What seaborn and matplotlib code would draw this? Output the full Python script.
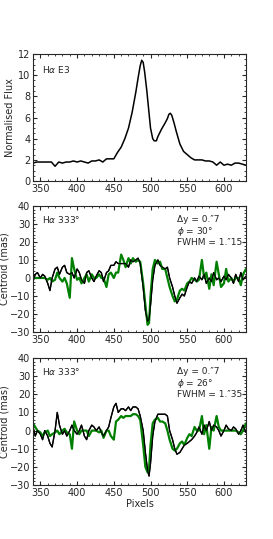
import numpy as np
import pandas as pd
import matplotlib
matplotlib.use("Agg")
import matplotlib.pyplot as plt
import seaborn as sns

# ---- data ----
flux_x = [340, 345, 350, 355, 360, 365, 370, 375, 380, 385, 390, 395, 400, 405, 410,
          415, 420, 425, 430, 435, 440, 445, 450, 455, 460, 465, 470, 475, 480, 483,
          486, 488, 490, 492, 495, 498, 500, 503, 505, 508, 510, 515, 520, 523, 525,
          527, 529, 532, 535, 540, 545, 550, 555, 560, 565, 570, 575, 580, 585, 590,
          595, 600, 605, 610, 615, 620, 625, 630]
flux_y = [1.7, 1.8, 1.8, 1.8, 1.8, 1.8, 1.4, 1.8, 1.7, 1.8, 1.8, 1.9, 1.8, 1.9, 1.8,
          1.7, 1.9, 1.9, 2.0, 1.8, 2.1, 2.1, 2.1, 2.7, 3.2, 4.0, 5.0, 6.5, 8.4, 9.7,
          10.9, 11.4, 11.2, 10.3, 8.5, 6.4, 5.0, 4.0, 3.8, 3.8, 4.2, 4.9, 5.5, 5.9, 6.3,
          6.4, 6.2, 5.5, 4.7, 3.5, 2.8, 2.5, 2.2, 2.0, 2.0, 2.0, 1.9, 1.9, 1.8, 1.5,
          1.8, 1.5, 1.6, 1.5, 1.7, 1.7, 1.6, 1.5]

cen_x = [340, 343, 346, 350, 353, 356, 360, 363, 366, 370, 373, 376, 380, 383, 386,
         390, 393, 396, 400, 403, 406, 410, 413, 416, 420, 423, 426, 430, 433, 436,
         440, 443, 446, 450, 453, 456, 460, 463, 466, 470, 473, 476, 480, 483, 486,
         490, 493, 496, 498, 500, 503, 506, 510, 513, 516, 520, 523, 526, 530, 533,
         536, 540, 543, 546, 550, 553, 556, 560, 563, 566, 570, 573, 576, 580, 583,
         586, 590, 593, 596, 600, 603, 606, 610, 613, 616, 620, 623, 626, 630]

obs_30 = [-2, 2, 3, 0, 2, 1, -3, -7, 0, 5, 6, 2, 6, 7, 3,
          2, 3, 0, 5, 3, -1, -3, 3, 4, 0, -2, 1, 4, 3, -2,
          3, 4, 7, 7, 9, 8, 8, 8, 8, 6, 10, 9, 10, 11, 8,
          -5, -18, -24, -23, -15, -1, 7, 10, 7, 6, 5, 6, 0, -5, -10,
          -14, -11, -9, -10, -5, -2, -3, 0, -2, 1, -1, 2, -3, 0, -2,
          3, -1, 0, -2, 1, -1, 2, 0, -3, 2, -2, 3, -1, 1]
mod_30 = [0, 0, 0, 0, 0, 0, -1, 0, -2, -1, 3, 0, -2, 0, -3,
          -11, 11, 5, -1, 0, -3, 0, 2, -2, 2, 0, 0, 2, 0, 0,
          -5, 2, 3, 0, 3, 3, 13, 10, 6, 11, 8, 11, 9, 10, 9,
          -3, -15, -26, -25, -10, 5, 10, 8, 9, 5, 5, 0, -5, -10, -13,
          -12, -7, -6, -7, -3, -2, 0, -1, -2, -1, 10, 0, 3, -6, 2,
          -4, 9, 2, -5, -3, 5, -2, 0, -2, 0, 0, -4, 2, 5]

obs_26 = [2, -3, 0, -2, -5, 0, -3, -7, -9, 0, 10, 3, -2, 0, -3,
          0, 3, 0, -2, 0, 3, -3, -5, 0, 3, 2, 0, 2, -1, -3,
          0, 2, 7, 13, 15, 10, 12, 12, 11, 13, 11, 13, 13, 12, 8,
          0, -12, -22, -25, -18, -3, 5, 9, 9, 9, 9, 8, 0, -5, -10,
          -13, -12, -10, -8, -7, -6, -5, -3, -1, 2, -2, 3, 0, 5, 0,
          3, 2, 0, -3, 0, 3, 1, 0, 2, 1, -2, 0, 3, -1]
mod_26 = [4, 2, 0, -1, -3, -1, 0, -3, -2, -1, 0, -2, 0, 1, -1,
          -2, -10, 5, 0, -2, 0, 0, 0, -3, 0, 0, 0, -1, 0, -4,
          0, 0, -3, -5, 5, 6, 8, 7, 8, 8, 8, 9, 9, 8, 6,
          -8, -20, -23, -21, -8, 4, 6, 7, 5, 5, 4, 0, -5, -10, -11,
          -10, -7, -6, -8, -4, -2, -3, 2, 0, 0, 8, -2, 3, -10, 2,
          0, 8, 2, 0, 0, 0, 0, 0, 0, 0, -1, -2, 0, 4]

panels = [("30°", "1.″15", obs_30, mod_30), ("26°", "1.″35", obs_26, mod_26)]

# ---- style ----
sns.set_style("ticks")
plt.rcParams['font.family'] = ['DejaVu Sans']
plt.rcParams.update({
    'xtick.direction': 'in', 'ytick.direction': 'in',
    'xtick.top': True, 'ytick.right': True,
    'xtick.minor.visible': True, 'ytick.minor.visible': True,
    'xtick.labelsize': 7, 'ytick.labelsize': 7,
    'xtick.major.size': 3, 'ytick.major.size': 3,
    'xtick.minor.size': 1.5, 'ytick.minor.size': 1.5,
    'axes.linewidth': 0.8,
})
fs = 6.5

fig = plt.figure(figsize=(2.73, 5.39), dpi=100)
ax1 = fig.add_axes([0.121, 0.664, 0.780, 0.236])
ax2 = fig.add_axes([0.121, 0.384, 0.780, 0.234])
ax3 = fig.add_axes([0.121, 0.100, 0.780, 0.236])

df = pd.DataFrame({"x": flux_x, "y": flux_y})
sns.lineplot(data=df, x="x", y="y", ax=ax1, color="black", lw=1.1)
ax1.set_ylim(0, 12)
ax1.set_yticks(np.arange(0, 13, 2))
ax1.set_ylabel("Normalised Flux", fontsize=7, labelpad=2)
ax1.text(0.04, 0.88, r"H$\alpha$ E3", transform=ax1.transAxes, fontsize=fs, va="center")

for ax, (phi, fwhm, obs, mod) in zip([ax2, ax3], panels):
    d = pd.DataFrame({"x": cen_x, "obs": obs, "mod": mod})
    sns.lineplot(data=d, x="x", y="obs", ax=ax, color="black", lw=1.0)
    sns.lineplot(data=d, x="x", y="mod", ax=ax, color="green", lw=1.6)
    sns.lineplot(data=d, x="x", y="obs", ax=ax, color="black", lw=0.8)
    ax.set_ylim(-30, 40)
    ax.set_yticks(np.arange(-30, 41, 10))
    ax.set_ylabel("Centroid (mas)", fontsize=7, labelpad=0)
    ax.text(0.04, 0.89, r"H$\alpha$ 333°", transform=ax.transAxes, fontsize=fs, va="center")
    ax.text(0.675, 0.89, "Δy = 0.″7", transform=ax.transAxes, fontsize=fs, va="center")
    ax.text(0.675, 0.80, r"$\phi$ = " + phi, transform=ax.transAxes, fontsize=fs, va="center")
    ax.text(0.675, 0.71, "FWHM = " + fwhm, transform=ax.transAxes, fontsize=fs, va="center")

for ax in (ax1, ax2, ax3):
    ax.set_xlim(340, 630)
    ax.set_xticks(np.arange(350, 601, 50))
    ax.set_xlabel("")
    ax.tick_params(pad=2)
ax3.set_xlabel("Pixels", fontsize=7, labelpad=1)

fig.savefig("out.png", dpi=100)
